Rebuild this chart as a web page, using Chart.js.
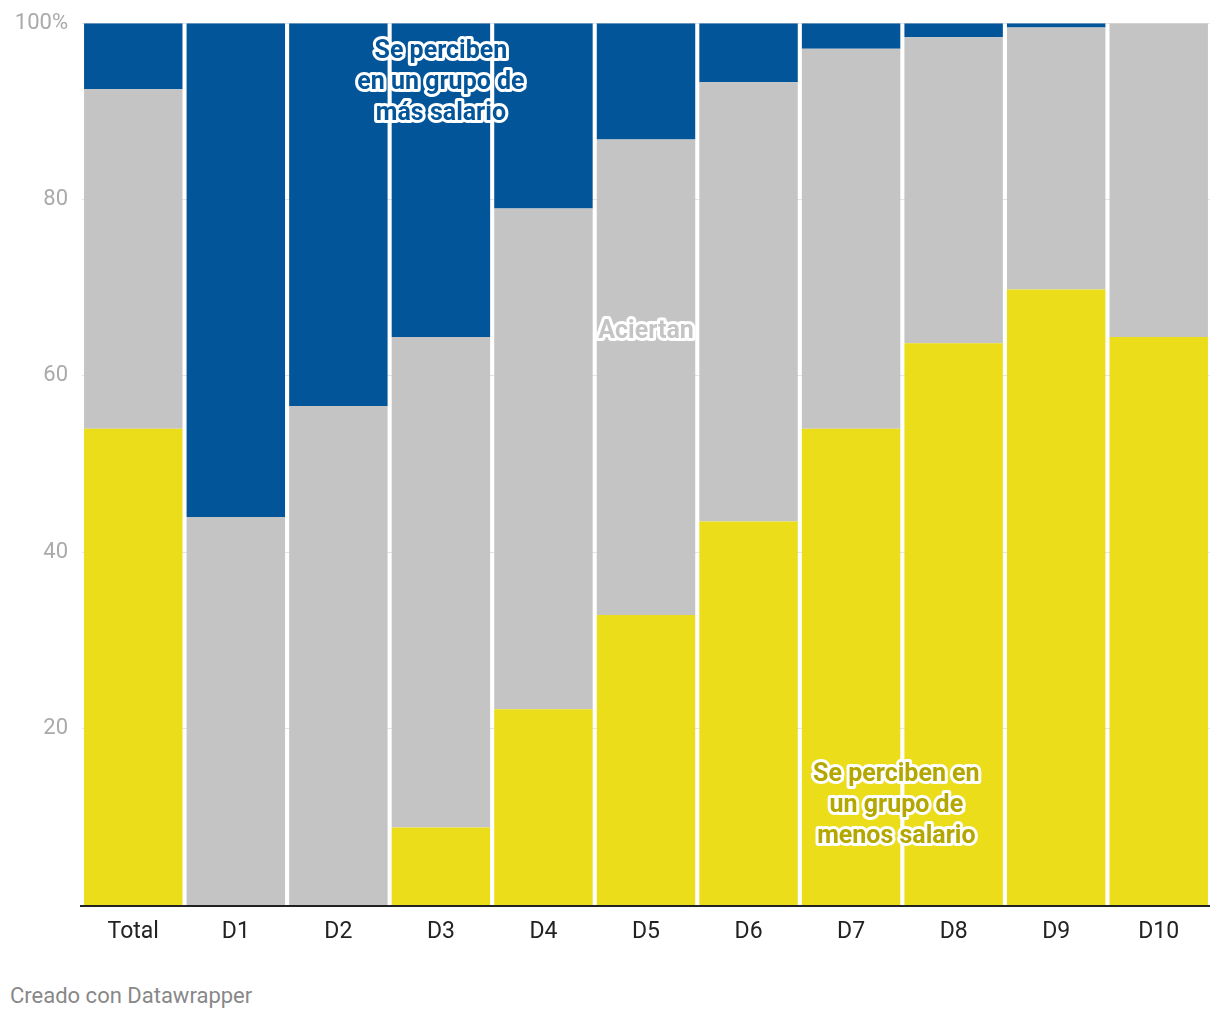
<!DOCTYPE html>
<html>
<head>
<meta charset="utf-8">
<script src="https://cdn.jsdelivr.net/npm/chart.js@4.4.0/dist/chart.umd.min.js"></script>
<style>
  body { margin: 0; background: #fff; font-family: Roboto, sans-serif; }
  #wrap { position: absolute; left: 0; top: -4px; width: 1220px; height: 964px; }
  #credit { position: absolute; left: 10px; top: 983px; font-size: 22px; color: #888; }
</style>
</head>
<body>
<div id="wrap"><canvas id="salaryChart"></canvas></div>
<div id="credit">Creado con Datawrapper</div>
<script>
const categories = ['Total', 'D1', 'D2', 'D3', 'D4', 'D5', 'D6', 'D7', 'D8', 'D9', 'D10'];
// share who place themselves in a lower-salary group
const menosSalario = [54.0, 0, 0, 8.8, 22.2, 32.9, 43.5, 54.0, 63.7, 69.8, 64.4];
// share who guess their group right
const aciertan = [38.5, 44.0, 56.6, 55.6, 56.8, 53.9, 49.8, 43.1, 34.7, 29.7, 35.6];
// share who place themselves in a higher-salary group
const masSalario = [7.5, 56.0, 43.4, 35.6, 21.0, 13.2, 6.7, 2.9, 1.6, 0.5, 0];
const yTicks = [20, 40, 60, 80, 100];

// labels drawn on top of the bars, white halo like Datawrapper
const labelPlugin = {
    id: 'labels',
    afterDatasetsDraw(chart) {
        const ctx = chart.ctx;
        const x = chart.scales.x;
        const y = chart.scales.y;
        // baseline
        ctx.save();
        ctx.strokeStyle = '#222';
        ctx.lineWidth = 2;
        ctx.beginPath();
        ctx.moveTo(x.left - 2, y.getPixelForValue(0) + 1);
        ctx.lineTo(x.right, y.getPixelForValue(0) + 1);
        ctx.stroke();

        const drawLabel = (lines, cx, yVal, color) => {
            ctx.font = 'bold 25px Roboto';
            ctx.textAlign = 'center';
            ctx.textBaseline = 'middle';
            ctx.lineJoin = 'round';
            let cy = y.getPixelForValue(yVal);
            lines.forEach(line => {
                ctx.strokeStyle = '#fff';
                ctx.lineWidth = 6;
                ctx.strokeText(line, cx, cy);
                ctx.fillStyle = color;
                ctx.fillText(line, cx, cy);
                cy += 31;
            });
        };
        drawLabel(['Se perciben', 'en un grupo de', 'más salario'], x.getPixelForValue(3), 96.8, '#03559a');
        drawLabel(['Aciertan'], x.getPixelForValue(5), 65.0, '#c4c4c4');
        const between = (x.getPixelForValue(7) + x.getPixelForValue(8)) / 2 - 6;
        drawLabel(['Se perciben en', 'un grupo de', 'menos salario'], between, 14.8, '#b3a700');
        ctx.restore();
    }
};

document.addEventListener('DOMContentLoaded', () => {
    const data = {
        labels: categories,
        datasets: [
            { label: 'Se perciben en un grupo de menos salario', data: menosSalario, backgroundColor: '#ecdd1a' },
            { label: 'Aciertan', data: aciertan, backgroundColor: '#c4c4c4' },
            { label: 'Se perciben en un grupo de más salario', data: masSalario, backgroundColor: '#03559a' }
        ]
    };

    const config = {
        type: 'bar',
        data: data,
        options: {
            responsive: true,
            maintainAspectRatio: false,
            animation: false,
            layout: { padding: { top: 16, right: 10, left: 0, bottom: 0 } },
            datasets: {
                bar: { barPercentage: 0.96, categoryPercentage: 1.0, borderWidth: 0 }
            },
            plugins: {
                legend: { display: false },
                tooltip: { enabled: false }
            },
            scales: {
                x: {
                    stacked: true,
                    grid: { display: false },
                    border: { display: false },
                    ticks: { color: '#222', font: { family: 'Roboto', size: 23 }, padding: 5 },
                    afterFit(scale) { scale.height = 55; }
                },
                y: {
                    stacked: true,
                    min: 0,
                    max: 100,
                    border: { display: false },
                    grid: { color: '#e4e4e4', lineWidth: 1, drawTicks: false },
                    afterBuildTicks(scale) {
                        scale.ticks = yTicks.map(v => ({ value: v }));
                    },
                    ticks: {
                        color: '#aaa',
                        font: { family: 'Roboto', size: 22 },
                        padding: 14,
                        callback: v => v === 100 ? '100%' : v
                    },
                    afterFit(scale) { scale.width = 82; }
                }
            }
        },
        plugins: [labelPlugin]
    };

    const ctx = document.getElementById('salaryChart').getContext('2d');
    new Chart(ctx, config);
});
</script>
</body>
</html>
